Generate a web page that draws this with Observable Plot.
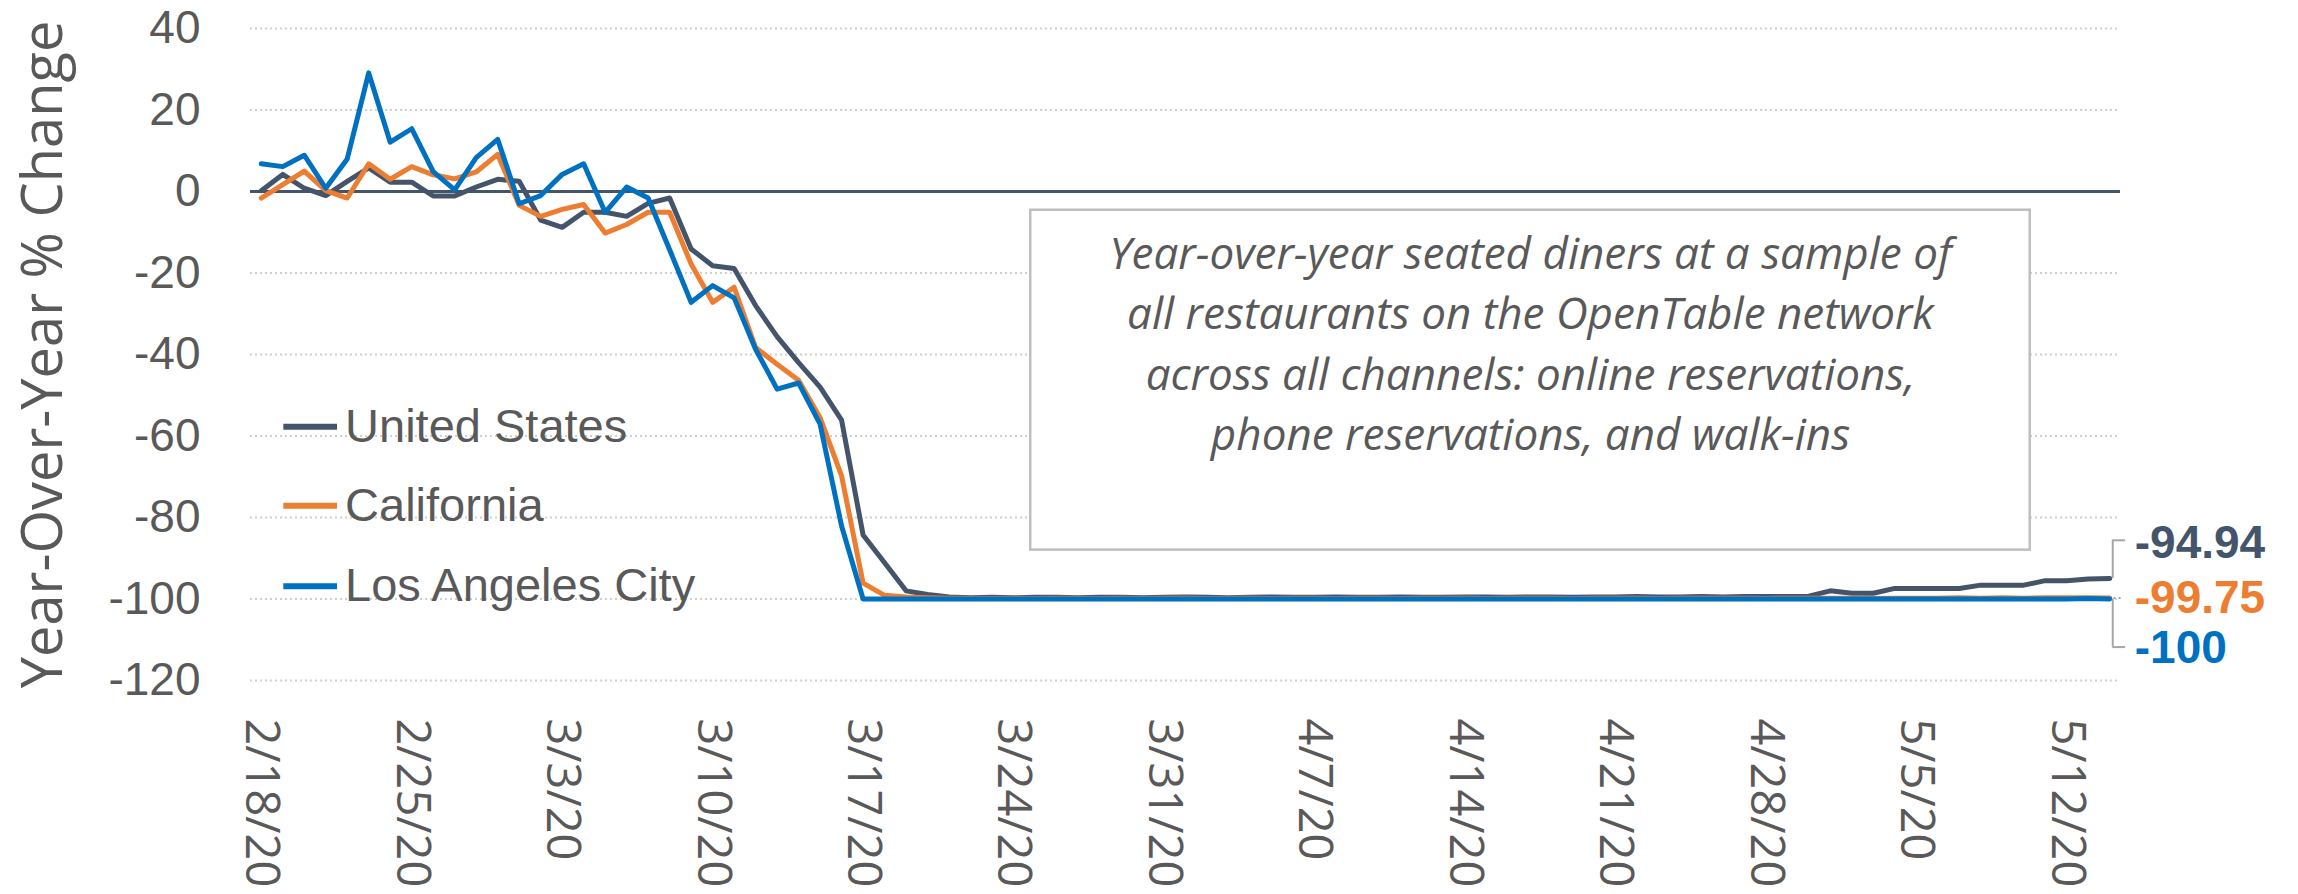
<!DOCTYPE html>
<html>
<head>
<meta charset="utf-8">
<script src="https://cdn.jsdelivr.net/npm/d3@7"></script>
<script src="https://cdn.jsdelivr.net/npm/@observablehq/plot@0.6"></script>
<style>
html, body { margin: 0; padding: 0; background: #fff; }
#chart { width: 2298px; height: 894px; overflow: hidden; }
</style>
</head>
<body>
<div id="chart"></div>
<script>
// ---------- data ----------
const startDate = "2020-02-18";
const endDate = "2020-05-14";
const seriesNames = ["United States", "California", "Los Angeles City"];
const seriesColors = ["#44546A", "#ED7D31", "#0070C0"];

const unitedStates = [
  0.2, 4.2, 0.8, -1.0, 2.5, 5.8, 2.3, 2.3, -1.1, -1.1,
  1.1, 3.0, 2.5, -7.0, -8.8, -5.1, -5.1, -6.1, -2.9, -1.6,
  -14.1, -18.2, -18.9, -28.0, -35.6, -42.0, -48.0, -56.1, -84.3, -91.1,
  -98.0, -98.9, -99.5, -99.7, -99.6, -99.7, -99.6, -99.6, -99.7, -99.6,
  -99.6, -99.7, -99.6, -99.5, -99.6, -99.7, -99.6, -99.5, -99.6, -99.6,
  -99.5, -99.6, -99.6, -99.5, -99.6, -99.6, -99.5, -99.5, -99.6, -99.5,
  -99.5, -99.6, -99.5, -99.5, -99.4, -99.5, -99.5, -99.4, -99.5, -99.4,
  -99.4, -99.4, -99.3, -98.0, -98.6, -98.6, -97.4, -97.4, -97.4, -97.4,
  -96.6, -96.6, -96.6, -95.5, -95.5, -95.1, -94.94
];
const california = [
  -1.6, 1.7, 5.0, 0.2, -1.6, 6.8, 3.0, 6.1, 4.1, 3.1,
  4.8, 9.1, -3.4, -6.1, -4.4, -3.2, -10.2, -8.1, -5.1, -5.1,
  -17.8, -27.2, -23.5, -38.3, -42.4, -46.3, -55.5, -69.8, -96.1, -99.1,
  -99.5, -99.7, -99.8, -99.8, -99.9, -99.8, -99.9, -99.8, -99.8, -99.9,
  -99.8, -99.9, -99.8, -99.8, -99.9, -99.8, -99.8, -99.9, -99.8, -99.8,
  -99.9, -99.8, -99.8, -99.9, -99.8, -99.8, -99.8, -99.9, -99.8, -99.8,
  -99.8, -99.9, -99.8, -99.8, -99.8, -99.9, -99.8, -99.8, -99.8, -99.8,
  -99.9, -99.8, -99.8, -99.8, -99.8, -99.9, -99.8, -99.8, -99.8, -99.7,
  -99.8, -99.7, -99.8, -99.7, -99.7, -99.7, -99.75
];
const losAngelesCity = [
  6.8, 6.1, 8.9, 0.8, 8.0, 29.1, 12.1, 15.4, 4.9, 0.4,
  8.3, 12.8, -3.0, -1.0, 4.2, 6.8, -5.1, 1.1, -1.6, -14.3,
  -27.2, -23.1, -26.1, -38.7, -48.5, -47.0, -57.1, -82.1, -100, -100,
  -100, -100, -100, -100, -100, -100, -100, -100, -100, -100,
  -100, -100, -100, -100, -100, -100, -100, -100, -100, -100,
  -100, -100, -100, -100, -100, -100, -100, -100, -100, -100,
  -100, -100, -100, -100, -100, -100, -100, -100, -100, -100,
  -100, -100, -100, -100, -100, -100, -100, -100, -100, -100,
  -100, -100, -100, -100, -100, -99.9, -100
];
const tickLabels = ["2/18/20", "2/25/20", "3/3/20", "3/10/20", "3/17/20", "3/24/20", "3/31/20",
  "4/7/20", "4/14/20", "4/21/20", "4/28/20", "5/5/20", "5/12/20"];
const yTicks = [40, 20, 0, -20, -40, -60, -80, -100, -120];
const endLabels = ["-94.94", "-99.75", "-100"];
const yTitle = "Year-Over-Year % Change";
const noteLines = [
  "Year-over-year seated diners at a sample of",
  "all restaurants on the OpenTable network",
  "across all channels: online reservations,",
  "phone reservations, and walk-ins"
];

// ---------- layout (positions in chart units, kept apart from the data) ----------
const layout = {
  legendY: [-57.7, -77.1, -96.9],      // legend rows
  legendX: [1.05, 3.55, 3.9],          // swatch start, swatch end, text start (days from start)
  box: {x1: 35.8, x2: 82.3, y1: -4.6, y2: -88.0},
  noteY: -36.5,                        // centre of the note text block
  labelY: [-86.4, -99.9, -112.2],      // end-label centres
  leaderY: [-85.6, -99.75, -111.8]     // leader line ends
};

// ---------- build ----------
const parseDay = d3.utcParse("%Y-%m-%d");
const parseTick = d3.utcParse("%m/%d/%y");
const t0 = parseDay(startDate);
const dates = d3.utcDay.range(t0, d3.utcDay.offset(parseDay(endDate), 1));
const lastDate = dates[dates.length - 1];
const dayAt = (d) => new Date(+t0 + d * 864e5);
const tickDates = tickLabels.map(parseTick);
const values = [unitedStates, california, losAngelesCity];

const rows = [];
seriesNames.forEach((name, k) => values[k].forEach((v, i) => rows.push({series: name, date: dates[i], value: v})));

const legendRows = seriesNames.map((name, k) => ({series: name, y: layout.legendY[k]}));
const endRows = seriesNames.map((name, k) => ({
  series: name, label: endLabels[k], value: values[k][values[k].length - 1],
  labelY: layout.labelY[k], leaderY: layout.leaderY[k]
}));

const gray = "#595959";
const sans = "'Liberation Sans', Arial, sans-serif";
const plot = Plot.plot({
  width: 2298,
  height: 894,
  marginTop: 28,
  marginBottom: 214,
  marginLeft: 250,
  marginRight: 178,
  style: {background: "white", color: gray, fontFamily: sans, overflow: "visible"},
  x: {type: "utc", domain: [dayAt(-0.5), dayAt(dates.length - 0.5)]},
  y: {domain: [-120, 40]},
  color: {domain: seriesNames, range: seriesColors},
  marks: [
    Plot.ruleY(yTicks.filter((v) => v !== 0), {stroke: "#d0d0d0", strokeWidth: 2, strokeDasharray: "2,3"}),
    Plot.rect([layout.box], {x1: (d) => dayAt(d.x1), x2: (d) => dayAt(d.x2), y1: "y1", y2: "y2",
      fill: "white", stroke: "#bfbfbf", strokeWidth: 2.5}),
    Plot.text([noteLines.join("\n")], {
      x: dayAt((layout.box.x1 + layout.box.x2) / 2), y: layout.noteY,
      text: (d) => d, fontFamily: "'Open Sans', sans-serif", fontStyle: "italic", fontSize: 44,
      lineHeight: 1.37, fill: gray, textAnchor: "middle"
    }),
    Plot.ruleY([0], {stroke: "#44546A", strokeWidth: 3}),
    Plot.axisY({ticks: yTicks, tickFormat: (d) => String(d), tickSize: 0, tickPadding: 50, fontSize: 46, fill: gray,
      fontFamily: sans, label: null}),
    Plot.axisX({ticks: tickDates, tickFormat: (d) => tickLabels[tickDates.findIndex((t) => +t === +d)],
      tickRotate: 90, tickSize: 0, tickPadding: 38, fontSize: 47, fill: gray,
      fontFamily: "'Open Sans', sans-serif", label: null}),
    Plot.text([yTitle], {frameAnchor: "left", rotate: -90, dx: -206, text: (d) => d,
      fontSize: 56, fontFamily: "'Open Sans', sans-serif", fill: gray, textAnchor: "middle"}),
    Plot.line(rows, {x: "date", y: "value", z: "series", stroke: "series", strokeWidth: 5,
      strokeLinejoin: "round", strokeLinecap: "round"}),
    // legend
    Plot.ruleY(legendRows, {y: "y", x1: dayAt(layout.legendX[0]), x2: dayAt(layout.legendX[1]),
      stroke: "series", strokeWidth: 6}),
    Plot.text(legendRows, {y: "y", x: dayAt(layout.legendX[2]), text: "series", textAnchor: "start",
      fontSize: 47, fill: gray, fontFamily: sans}),
    // leader lines and end labels
    Plot.ruleX(endRows.filter((d) => d.series !== "California"), {x: lastDate, y1: "value", y2: "leaderY",
      dx: 3, stroke: "#a6a6a6", strokeWidth: 2}),
    Plot.ruleY(endRows.filter((d) => d.series !== "California"), {y: "leaderY", x1: lastDate, x2: dayAt(dates.length - 0.4),
      dx: 3, stroke: "#a6a6a6", strokeWidth: 2}),
    Plot.ruleY(endRows.filter((d) => d.series === "California"), {y: "leaderY", x1: dayAt(dates.length - 0.8), x2: dayAt(dates.length - 0.45),
      stroke: "#a6a6a6", strokeWidth: 2, strokeDasharray: "2,3"}),
    Plot.text(endRows, {x: lastDate, y: "labelY", text: "label", fill: "series", dx: 25, textAnchor: "start",
      fontSize: 46, fontWeight: "bold", fontFamily: sans})
  ]
});
document.getElementById("chart").appendChild(plot);
</script>
</body>
</html>
